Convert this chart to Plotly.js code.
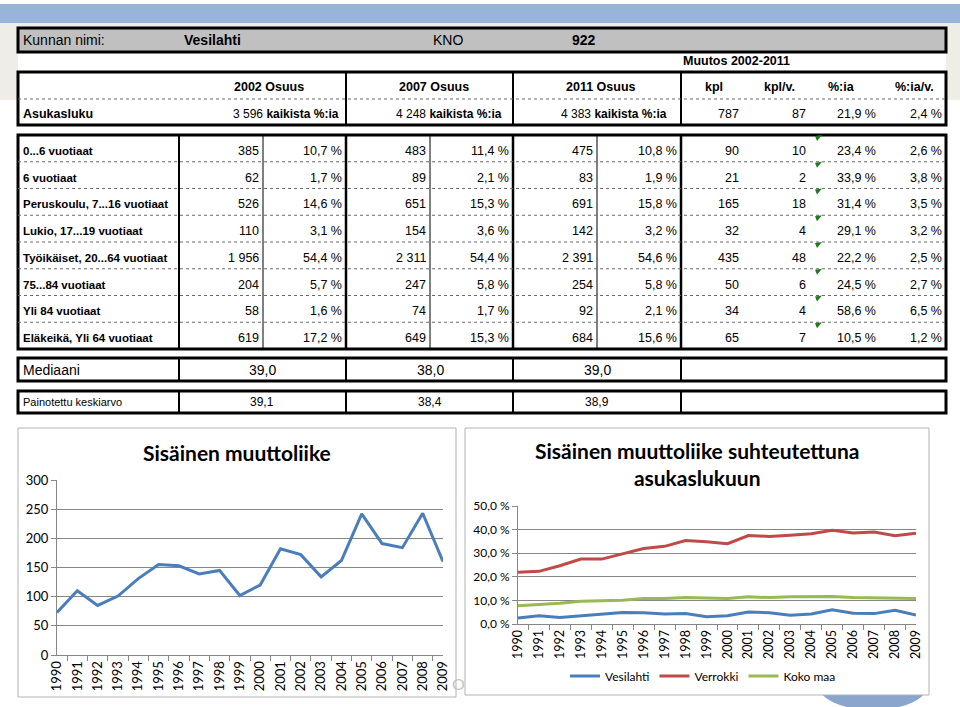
<!DOCTYPE html>
<html><head><meta charset="utf-8">
<script src="https://cdn.plot.ly/plotly-3.0.1.min.js"></script>
<style>html,body{margin:0;padding:0;background:#fff;overflow:hidden}#chart{width:960px;height:707px;}</style>
</head><body><div id="chart"></div>
<script>
// ---------------- data ----------------
const municipalityLabel = 'Kunnan nimi:';
const municipality = 'Vesilahti';
const knoLabel = 'KNO';
const kno = '922';
const changePeriod = 'Muutos 2002-2011';
const headerYears = ['2002 Osuus', '2007 Osuus', '2011 Osuus'];
const changeHeaders = ['kpl', 'kpl/v.', '%:ia', '%:ia/v.'];
const totalLabel = 'Asukasluku';
const shareLabel = 'kaikista %:ia';
const popTotal = [3596, 4248, 4383];
const popChange = [787, 87, 21.9, 2.4];
const rowLabels = ['0...6 vuotiaat', '6 vuotiaat', 'Peruskoulu, 7...16 vuotiaat', 'Lukio, 17...19 vuotiaat',
  'Työikäiset, 20...64 vuotiaat', '75...84 vuotiaat', 'Yli 84 vuotiaat', 'Eläkeikä, Yli 64 vuotiaat'];
const n2002 = [385, 62, 526, 110, 1956, 204, 58, 619];
const s2002 = [10.7, 1.7, 14.6, 3.1, 54.4, 5.7, 1.6, 17.2];
const n2007 = [483, 89, 651, 154, 2311, 247, 74, 649];
const s2007 = [11.4, 2.1, 15.3, 3.6, 54.4, 5.8, 1.7, 15.3];
const n2011 = [475, 83, 691, 142, 2391, 254, 92, 684];
const s2011 = [10.8, 1.9, 15.8, 3.2, 54.6, 5.8, 2.1, 15.6];
const chgKpl = [90, 21, 165, 32, 435, 50, 34, 65];
const chgKplV = [10, 2, 18, 4, 48, 6, 4, 7];
const chgPct = [23.4, 33.9, 31.4, 29.1, 22.2, 24.5, 58.6, 10.5];
const chgPctV = [2.6, 3.8, 3.5, 3.2, 2.5, 2.7, 6.5, 1.2];
const medianLabel = 'Mediaani';
const median = [39.0, 38.0, 39.0];
const meanLabel = 'Painotettu keskiarvo';
const weightedMean = [39.1, 38.4, 38.9];

const years = ['1990','1991','1992','1993','1994','1995','1996','1997','1998','1999',
  '2000','2001','2002','2003','2004','2005','2006','2007','2008','2009'];
const chart1Title = 'Sisäinen muuttoliike';
const migration = [73, 110, 85, 101, 131, 155, 153, 139, 145, 102, 120, 182, 172, 134, 162, 242, 191, 184, 243, 160];
const chart2Title = 'Sisäinen muuttoliike suhteutettuna<br>asukaslukuun';
const seriesNames = ['Vesilahti', 'Verrokki', 'Koko maa'];
const relVesilahti = [2.5, 3.5, 2.8, 3.4, 4.2, 4.9, 4.8, 4.2, 4.4, 3.1, 3.5, 5.1, 4.8, 3.7, 4.2, 6.0, 4.6, 4.4, 5.8, 3.8];
const relVerrokki = [21.9, 22.3, 24.7, 27.5, 27.5, 29.6, 32.0, 32.9, 35.4, 34.8, 34.0, 37.5, 37.1, 37.6, 38.2, 39.7, 38.6, 39.0, 37.4, 38.5];
const relKokoMaa = [7.7, 8.1, 8.8, 9.6, 9.7, 10.1, 10.8, 10.8, 11.2, 11.0, 10.8, 11.5, 11.2, 11.5, 11.5, 11.7, 11.2, 11.1, 10.7, 10.8];

// ---------------- helpers ----------------
const W = 960, H = 707;
const X = p => p / W;
const Y = p => 1 - p / H;
const fmtInt = n => String(n).replace(/\B(?=(\d{3})+(?!\d))/g, ' ');
const fmtDec = v => v.toFixed(1).replace('.', ',');
const fmtPct = v => fmtDec(v) + ' %';
const NARROW = 'Liberation Sans Narrow, Arial Narrow, Liberation Sans, sans-serif';
const CAL = 'Lato, Carlito, Calibri, sans-serif';

const shapes = [];
const ann = [];
function rect(x0, y0, x1, y1, fill, lw, lc) {
  shapes.push({type: 'rect', xref: 'paper', yref: 'paper', x0: X(x0), x1: X(x1), y0: Y(y1), y1: Y(y0),
    fillcolor: fill, line: {width: lw, color: lc || '#000'}, layer: 'below'});
}
function vline(x, y0, y1, lw) {
  shapes.push({type: 'line', xref: 'paper', yref: 'paper', x0: X(x), x1: X(x), y0: Y(y0), y1: Y(y1),
    line: {width: lw, color: '#000'}, layer: 'below'});
}
function dotline(x0, x1, y) {
  shapes.push({type: 'line', xref: 'paper', yref: 'paper', x0: X(x0), x1: X(x1), y0: Y(y), y1: Y(y),
    line: {width: 1, color: '#6a6a6a', dash: 'dot'}, layer: 'below'});
}
function txt(t, x, y, anchor, size, family, color) {
  ann.push({text: t, x: X(x), y: Y(y), xref: 'paper', yref: 'paper', xanchor: anchor, yanchor: 'middle',
    showarrow: false, borderpad: 0, font: {family: family || NARROW, size: size, color: color || '#000'}});
}
function flag(x, y) {
  shapes.push({type: 'path', xref: 'paper', yref: 'paper',
    path: 'M' + X(x) + ',' + Y(y) + ' L' + X(x + 7) + ',' + Y(y - 1) + ' L' + X(x + 2) + ',' + Y(y + 5) + ' Z',
    fillcolor: '#1f7a1f', line: {width: 0}, layer: 'above'});
}

// ---------------- slide background ----------------
rect(0, 4, 960, 23, '#98b4d8', 0, '#98b4d8');
rect(0, 23, 960, 100, '#eeede6', 0, '#eeede6');
rect(18, 52, 946, 126, '#ffffff', 0, '#ffffff');

// ---------------- header boxes ----------------
rect(18, 28, 946, 52, '#c0c0c0', 3);
txt(municipalityLabel, 22, 40, 'left', 14);
txt('<b>' + municipality + '</b>', 183, 40, 'left', 14);
txt(knoLabel, 432, 40, 'left', 14);
txt('<b>' + kno + '</b>', 571, 40, 'left', 14);
txt('<b>' + changePeriod + '</b>', 682, 61, 'left', 12.5);

rect(18, 72, 946, 125, '#ffffff', 3);
[346, 513, 681].forEach(x => vline(x, 72, 125, 2));
dotline(18, 946, 99);
const headerX = [269, 434, 601];
headerYears.forEach((h, i) => txt('<b>' + h + '</b>', headerX[i], 87, 'center', 12.5));
const chX = [714, 779, 841, 914];
changeHeaders.forEach((h, i) => txt('<b>' + h + '</b>', chX[i], 87, 'center', 12.5));
txt('<b>' + totalLabel + '</b>', 22, 114, 'left', 12.5);
const totRight = [340, 503, 668];
popTotal.forEach((v, i) => txt(fmtInt(v) + ' <b>' + shareLabel + '</b>', totRight[i], 114, 'right', 12));
txt(fmtInt(popChange[0]), 740, 114, 'right', 12.5);
txt(fmtInt(popChange[1]), 807, 114, 'right', 12.5);
txt(fmtPct(popChange[2]), 877, 114, 'right', 12.5);
txt(fmtPct(popChange[3]), 943, 114, 'right', 12.5);

// ---------------- main table ----------------
const top0 = 135, rowH = 26.75, nRows = rowLabels.length;
rect(18, top0, 946, top0 + rowH * nRows, '#ffffff', 3);
[[179, 2], [263, 1], [346, 2.5], [430, 1], [513, 2.5], [597, 1], [681, 2.5]].forEach(v => vline(v[0], top0, top0 + rowH * nRows, v[1]));
for (let i = 1; i < nRows; i++) dotline(18, 946, top0 + rowH * i);
const cols = [[n2002, fmtInt, 260], [s2002, fmtPct, 343], [n2007, fmtInt, 427], [s2007, fmtPct, 510],
  [n2011, fmtInt, 594], [s2011, fmtPct, 678], [chgKpl, fmtInt, 740], [chgKplV, fmtInt, 807],
  [chgPct, fmtPct, 877], [chgPctV, fmtPct, 943]];
rowLabels.forEach((lab, i) => {
  const yc = top0 + rowH * i + 16;
  txt('<b>' + lab + '</b>', 22, yc, 'left', 11.5);
  cols.forEach(c => txt(c[1](c[0][i]), c[2], yc, 'right', 12.5));
  flag(815, top0 + rowH * i + 1);
});

// ---------------- median / mean ----------------
rect(18, 358, 946, 381, '#ffffff', 3);
[179, 346, 513, 681].forEach(x => vline(x, 358, 381, 2));
txt(medianLabel, 22, 370, 'left', 14);
const valX = [262, 430, 597];
median.forEach((v, i) => txt(fmtDec(v), valX[i], 370, 'center', 14));
rect(18, 391, 946, 413, '#ffffff', 3);
[179, 346, 513, 681].forEach(x => vline(x, 391, 413, 2));
txt(meanLabel, 22, 402, 'left', 11);
weightedMean.forEach((v, i) => txt(fmtDec(v), valX[i], 402, 'center', 12));

// ---------------- chart frames ----------------
shapes.push({type: 'circle', xref: 'paper', yref: 'paper', x0: X(818), x1: X(928), y0: Y(710), y1: Y(660),
  fillcolor: '#8aa6cc', line: {width: 0}, layer: 'below'});
rect(18, 428, 456, 697, '#ffffff', 1, '#b3b3b3');
rect(465, 428, 929, 695, '#ffffff', 1, '#b3b3b3');
txt('O', 466, 683, 'right', 16, CAL, '#c4c4c4');
txt('<b>' + chart1Title + '</b>', 237, 452, 'center', 21, CAL);
txt('<b>' + chart2Title + '</b>', 697, 464, 'center', 21, CAL);

// ---------------- traces ----------------
const traces = [
  {x: years, y: migration, type: 'scatter', mode: 'lines', line: {color: '#4a7ebb', width: 3},
    xaxis: 'x', yaxis: 'y', showlegend: false, hoverinfo: 'skip'},
  {x: years, y: relVesilahti, name: seriesNames[0], type: 'scatter', mode: 'lines', line: {color: '#4a7ebb', width: 3},
    xaxis: 'x2', yaxis: 'y2'},
  {x: years, y: relVerrokki, name: seriesNames[1], type: 'scatter', mode: 'lines', line: {color: '#be4b48', width: 3},
    xaxis: 'x2', yaxis: 'y2'},
  {x: years, y: relKokoMaa, name: seriesNames[2], type: 'scatter', mode: 'lines', line: {color: '#98b954', width: 3},
    xaxis: 'x2', yaxis: 'y2'}
];

const axCol = '#868686';
const xBase = {type: 'category', tickangle: -90, tickson: 'boundaries', ticks: 'outside', ticklen: 5,
  tickcolor: axCol, showline: true, linecolor: axCol, linewidth: 1, showgrid: false, zeroline: false,
  tickfont: {family: CAL, size: 13, color: '#000'}, fixedrange: true, automargin: false};
const yBase = {ticks: 'outside', ticklen: 5, tickcolor: axCol, showline: true, linecolor: axCol, linewidth: 1,
  showgrid: true, gridcolor: axCol, gridwidth: 1, zeroline: false, tick0: 0,
  tickfont: {family: CAL, size: 13, color: '#000'}, fixedrange: true, automargin: false};

const layout = {
  width: W, height: H, margin: {l: 0, r: 0, t: 0, b: 0}, autosize: false,
  paper_bgcolor: '#ffffff', plot_bgcolor: 'rgba(0,0,0,0)',
  separators: ', ',
  showlegend: true,
  legend: {orientation: 'h', x: X(703), xanchor: 'center', y: Y(676), yanchor: 'middle',
    font: {family: CAL, size: 12, color: '#000'}, bgcolor: 'rgba(0,0,0,0)', traceorder: 'normal'},
  xaxis: Object.assign({}, xBase, {domain: [X(57), X(443)], anchor: 'y'}),
  yaxis: Object.assign({}, yBase, {domain: [Y(655), Y(480)], anchor: 'x', range: [0, 300], dtick: 50}),
  xaxis2: Object.assign({}, xBase, {domain: [X(518), X(916)], anchor: 'y2', tickfont: {family: CAL, size: 12.5, color: '#000'}}),
  yaxis2: Object.assign({}, yBase, {domain: [Y(624), Y(506)], anchor: 'x2', range: [0, 50], dtick: 10,
    tickformat: '.1f', ticksuffix: ' %', tickfont: {family: CAL, size: 12, color: '#000'}}),
  shapes: shapes,
  annotations: ann
};

Plotly.newPlot('chart', traces, layout, {staticPlot: true, displayModeBar: false});
</script>
</body></html>
